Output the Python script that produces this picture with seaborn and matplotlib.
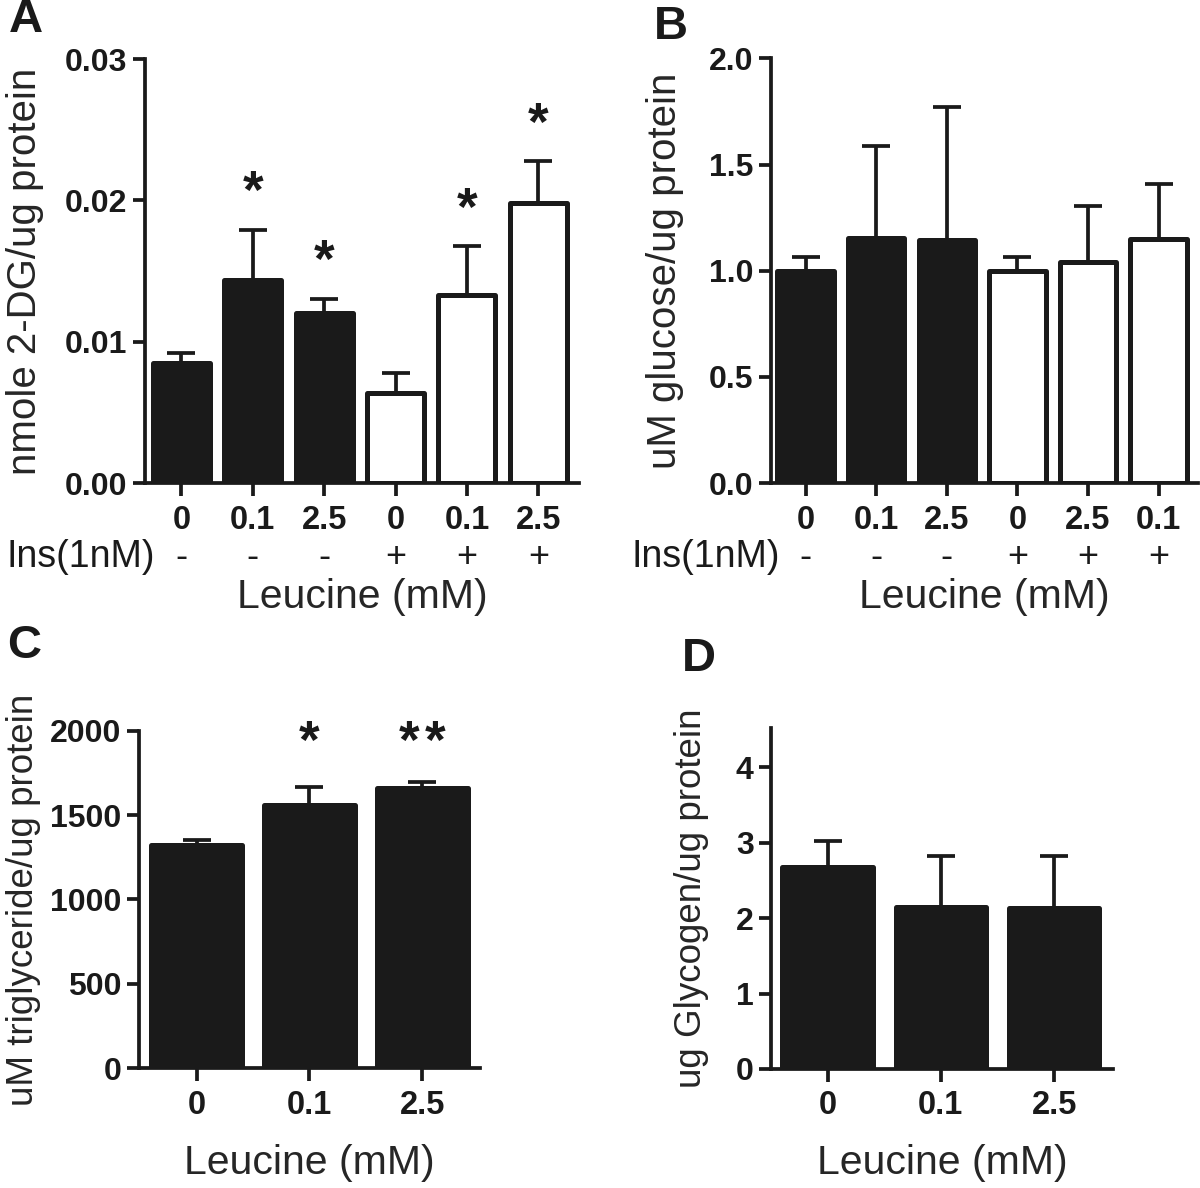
import numpy as np
import pandas as pd
import matplotlib
matplotlib.use("Agg")
import matplotlib.pyplot as plt
import matplotlib.transforms as mtransforms
import seaborn as sns


# --- values (mean and upper error) ---
a_leucine = ["0", "0.1", "2.5", "0", "0.1", "2.5"]
a_insulin = ["-", "-", "-", "+", "+", "+"]
a_mean = [0.0085, 0.0144, 0.0120, 0.0064, 0.0133, 0.0198]
a_err = [0.0007, 0.0035, 0.0010, 0.0014, 0.0035, 0.0030]
a_stars = ["", "*", "*", "", "*", "*"]
a_star_y = [0, 0.0212, 0.0163, 0, 0.0200, 0.0260]

b_leucine = ["0", "0.1", "2.5", "0", "2.5", "0.1"]
b_insulin = ["-", "-", "-", "+", "+", "+"]
b_mean = [1.00, 1.155, 1.145, 1.00, 1.04, 1.15]
b_err = [0.065, 0.432, 0.626, 0.067, 0.267, 0.257]

c_leucine = ["0", "0.1", "2.5"]
c_insulin = ["-", "-", "-"]
c_mean = [1326, 1558, 1659]
c_err = [26, 107, 38]
c_stars = ["", "*", "**"]
c_star_y = [0, 1988, 1988]

d_leucine = ["0", "0.1", "2.5"]
d_insulin = ["-", "-", "-"]
d_mean = [2.68, 2.15, 2.13]
d_err = [0.34, 0.67, 0.69]

INK = "#1a1a1a"
STAR_SIZE = 38

sns.set_style("ticks")
plt.rcParams["font.family"] = ["Liberation Sans", "DejaVu Sans"]
plt.rcParams["axes.linewidth"] = 2.7
plt.rcParams["text.color"] = INK
plt.rcParams["axes.edgecolor"] = INK


def bar_panel(ax, leucine, insulin, mean, err, xlim, ylim, yticks, ylabels):
    n = len(mean)
    df = pd.DataFrame({"cond": [str(i) for i in range(n)], "ins": insulin, "value": mean})
    sns.barplot(data=df, x="cond", y="value", hue="ins",
                palette={"-": INK, "+": "white"}, dodge=False, legend=False,
                width=0.8, edgecolor=INK, linewidth=3.6, errorbar=None, ax=ax)
    for p in ax.patches:
        p.set_joinstyle("round")
    ax.errorbar(np.arange(n), mean, yerr=[np.zeros(n), err], fmt="none",
                ecolor=INK, elinewidth=2.7, capsize=10, capthick=2.7, zorder=0.5)
    ax.set_xlim(*xlim)
    ax.set_ylim(*ylim)
    ax.set_xticks(np.arange(n))
    ax.set_xticklabels(leucine, fontweight="bold", fontsize=23.5)
    ax.set_yticks(yticks)
    ax.set_yticklabels(ylabels, fontweight="bold", fontsize=23)
    ax.tick_params(axis="x", direction="out", length=9, width=2.7, pad=6.5, colors=INK)
    ax.tick_params(axis="y", direction="out", length=9, width=2.7, pad=3.5, colors=INK)
    sns.despine(ax=ax)


def add_stars(ax, stars, ys):
    # asterisks sit high in the font, so shift the text box down a little
    for i, (s, y) in enumerate(zip(stars, ys)):
        k = len(s)
        for j in range(k):
            dx = (j - (k - 1) / 2) * 19
            tr = mtransforms.offset_copy(ax.transData, fig=fig, x=dx,
                                         y=-0.2 * STAR_SIZE, units="points")
            ax.text(i, y, "*", transform=tr, ha="center", va="center",
                    fontsize=STAR_SIZE, fontweight="bold")


fig = plt.figure(figsize=(12, 11.88), dpi=100)
ax_a = fig.add_axes([0.1208, 0.5934, 0.3617, 0.3569])
ax_b = fig.add_axes([0.6425, 0.5934, 0.3560, 0.3574])
ax_c = fig.add_axes([0.1158, 0.1010, 0.2842, 0.2837])
ax_d = fig.add_axes([0.6425, 0.1002, 0.2850, 0.2870])

bar_panel(ax_a, a_leucine, a_insulin, a_mean, a_err, (-0.51, 5.57), (0, 0.03),
          [0, 0.01, 0.02, 0.03], ["0.00", "0.01", "0.02", "0.03"])
bar_panel(ax_b, b_leucine, b_insulin, b_mean, b_err, (-0.49, 5.56), (0, 2.0),
          [0, 0.5, 1.0, 1.5, 2.0], ["0.0", "0.5", "1.0", "1.5", "2.0"])
bar_panel(ax_c, c_leucine, c_insulin, c_mean, c_err, (-0.51, 2.51), (0, 2000),
          [0, 500, 1000, 1500, 2000], ["0", "500", "1000", "1500", "2000"])
bar_panel(ax_d, d_leucine, d_insulin, d_mean, d_err, (-0.50, 2.52), (0, 4.52),
          [0, 1, 2, 3, 4], ["0", "1", "2", "3", "4"])

add_stars(ax_a, a_stars, a_star_y)
add_stars(ax_c, c_stars, c_star_y)

# insulin row under panels A and B
for ax, ins in [(ax_a, a_insulin), (ax_b, b_insulin)]:
    for i, sym in enumerate(ins):
        ax.text(i, -0.1745, sym, transform=ax.get_xaxis_transform(),
                ha="center", va="center", fontsize=26)
fig.text(81 / 1200, 1 - 557 / 1188, "Ins(1nM)", ha="center", va="center", fontsize=27)
fig.text(706 / 1200, 1 - 557 / 1188, "Ins(1nM)", ha="center", va="center", fontsize=27)

# axis labels
labels = [
    (ax_a, "nmole 2-DG/ug protein", 29, -0.2765, -0.269),
    (ax_b, "uM glucose/ug protein", 29, -0.248, -0.269),
    (ax_c, "uM triglyceride/ug protein", 26.5, -0.340, -0.282),
    (ax_d, "ug Glycogen/ug protein", 26.5, -0.231, -0.276),
]
for ax, ylab, ysize, yx, xy in labels:
    ax.set_ylabel(ylab, fontsize=ysize)
    ax.yaxis.set_label_coords(yx, 0.5)
    ax.yaxis.label.set_va("center")
    ax.set_xlabel("Leucine (mM)", fontsize=29.5)
    ax.xaxis.set_label_coords(0.5, xy)
    ax.xaxis.label.set_va("center")

# panel letters
for letter, x, y in [("A", 26, 20), ("B", 671, 27), ("C", 24, 646), ("D", 699, 659)]:
    fig.text(x / 1200, 1 - y / 1188, letter, ha="center", va="center",
             fontsize=34, fontweight="bold")

fig.savefig("out.png", dpi=100)
